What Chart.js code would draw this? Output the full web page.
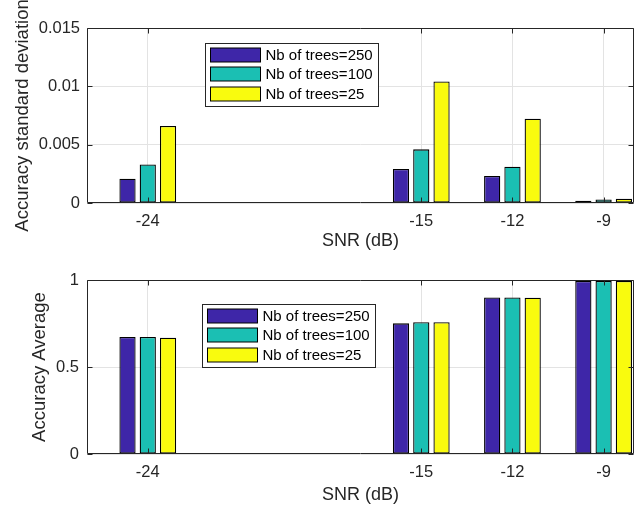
<!DOCTYPE html>
<html>
<head>
<meta charset="utf-8">
<script src="https://cdn.jsdelivr.net/npm/chart.js@4"></script>
<style>
  html, body { margin: 0; padding: 0; background: #fff; }
  canvas { position: absolute; left: 0; }
  #stdChart { top: 0; }
  #avgChart { top: 254px; }
</style>
</head>
<body>
<canvas id="stdChart" width="639" height="254"></canvas>
<canvas id="avgChart" width="639" height="254"></canvas>
<script>
// SNR positions of the bar groups and x tick labels
const snr = [-24, -15, -12, -9];
const seriesLabels = ['Nb of trees=250', 'Nb of trees=100', 'Nb of trees=25'];

// Accuracy standard deviation (top plot)
const stdTrees250 = [0.00208, 0.00291, 0.00231, 0.0002];
const stdTrees100 = [0.00331, 0.0046, 0.00311, 0.00031];
const stdTrees25 = [0.0066, 0.01042, 0.00723, 0.00037];

// Accuracy average (bottom plot)
const avgTrees250 = [0.672, 0.751, 0.9, 0.995];
const avgTrees100 = [0.672, 0.757, 0.9, 0.995];
const avgTrees25 = [0.668, 0.757, 0.898, 0.995];

// Tick labels
const stdTicks = [0, 0.005, 0.01, 0.015];
const avgTicks = [0, 0.5, 1];

const colors = ['#3E26A8', '#1BBFB3', '#F9FB0E'];
const textColor = '#262626';
const fontFamily = '"Liberation Sans", Arial, Helvetica, sans-serif';

// Frame with inward tick marks on all four sides, like a boxed axes
const boxPlugin = {
  id: 'boxFrame',
  afterDatasetsDraw(chart) {
    const {ctx, chartArea: {left, right, top, bottom}, scales: {x, y}} = chart;
    const l = Math.round(left) + 0.5, r = Math.round(right) - 0.5;
    const t = Math.round(top) + 0.5, b = Math.round(bottom) - 0.5;
    const len = 5;
    ctx.save();
    ctx.strokeStyle = textColor;
    ctx.lineWidth = 1;
    ctx.beginPath();
    ctx.rect(l, t, r - l, b - t);
    x.ticks.forEach(tk => {
      const px = Math.round(x.getPixelForValue(tk.value)) + 0.5;
      ctx.moveTo(px, b); ctx.lineTo(px, b - len);
      ctx.moveTo(px, t); ctx.lineTo(px, t + len);
    });
    y.ticks.forEach(tk => {
      const py = Math.round(y.getPixelForValue(tk.value)) + 0.5;
      ctx.moveTo(l, py); ctx.lineTo(l + len, py);
      ctx.moveTo(r, py); ctx.lineTo(r - len, py);
    });
    ctx.stroke();
    ctx.restore();
  }
};

// Boxed legend placed inside the plot area
const boxLegend = {
  id: 'boxLegend',
  afterDraw(chart, args, opts) {
    const {ctx, chartArea} = chart;
    const x0 = Math.round(chartArea.left + opts.dx) + 0.5;
    const y0 = Math.round(chartArea.top + opts.dy) + 0.5;
    const w = 173, h = 63, pitch = 19.3;
    ctx.save();
    ctx.fillStyle = '#fff';
    ctx.fillRect(x0, y0, w, h);
    ctx.strokeStyle = textColor;
    ctx.lineWidth = 1;
    ctx.strokeRect(x0, y0, w, h);
    ctx.font = '15px ' + fontFamily;
    ctx.textBaseline = 'middle';
    ctx.textAlign = 'left';
    chart.data.datasets.forEach((ds, i) => {
      const sy = Math.round(y0 + 4.5 + i * pitch);
      ctx.fillStyle = ds.backgroundColor;
      ctx.fillRect(x0 + 5, sy, 50, 14);
      ctx.strokeStyle = '#000';
      ctx.strokeRect(x0 + 5, sy, 50, 14);
      ctx.fillStyle = '#000';
      ctx.fillText(ds.label, x0 + 60, sy + 7.5);
    });
    ctx.restore();
  }
};

function makeChart(canvasId, series, yTicks, yTitle, geo) {
  const datasets = series.map((vals, i) => ({
    label: seriesLabels[i],
    data: snr.map((s, j) => ({x: s, y: vals[j]})),
    backgroundColor: colors[i],
    borderColor: '#000',
    borderWidth: 1.3,
    borderSkipped: false,
    categoryPercentage: 0.667,
    barPercentage: 0.8
  }));

  return new Chart(document.getElementById(canvasId), {
    type: 'bar',
    data: {datasets: datasets},
    options: {
      responsive: false,
      animation: false,
      devicePixelRatio: 1,
      layout: {padding: {top: geo.top, right: 5, left: 0, bottom: 0}},
      plugins: {
        legend: {display: false},
        tooltip: {enabled: false},
        boxLegend: {dx: geo.legendDx, dy: geo.legendDy}
      },
      scales: {
        x: {
          type: 'linear',
          min: -26,
          max: -8,
          offset: false,
          afterBuildTicks: scale => { scale.ticks = snr.map(v => ({value: v})); },
          afterFit: scale => { scale.height = geo.xHeight; },
          grid: {color: '#E3E3E3', offset: false, drawTicks: false},
          border: {display: false},
          ticks: {
            color: textColor,
            padding: 9,
            maxRotation: 0,
            font: {family: fontFamily, size: 16.5},
            callback: v => String(v)
          },
          title: {
            display: true,
            text: 'SNR (dB)',
            color: textColor,
            font: {family: fontFamily, size: 18, lineHeight: 1.2},
            padding: {top: 0, bottom: 2}
          }
        },
        y: {
          min: yTicks[0],
          max: yTicks[yTicks.length - 1],
          afterBuildTicks: scale => { scale.ticks = yTicks.map(v => ({value: v})); },
          afterFit: scale => { scale.width = 87; },
          grid: {color: '#E3E3E3', drawTicks: false},
          border: {display: false},
          ticks: {
            color: textColor,
            padding: geo.yPad,
            font: {family: fontFamily, size: 16.5},
            callback: v => String(+v.toFixed(4))
          },
          title: {
            display: true,
            text: yTitle,
            color: textColor,
            font: {family: fontFamily, size: 18.5, lineHeight: 1.2},
            padding: {top: geo.yTitlePad, bottom: 0}
          }
        }
      }
    },
    plugins: [boxPlugin, boxLegend]
  });
}

makeChart('stdChart', [stdTrees250, stdTrees100, stdTrees25], stdTicks,
  'Accuracy standard deviation',
  {top: 28, xHeight: 51, yPad: 7, yTitlePad: 12, legendDx: 118, legendDy: 15});

makeChart('avgChart', [avgTrees250, avgTrees100, avgTrees25], avgTicks,
  'Accuracy Average',
  {top: 26, xHeight: 54, yPad: 8, yTitlePad: 29, legendDx: 115, legendDy: 24});
</script>
</body>
</html>
